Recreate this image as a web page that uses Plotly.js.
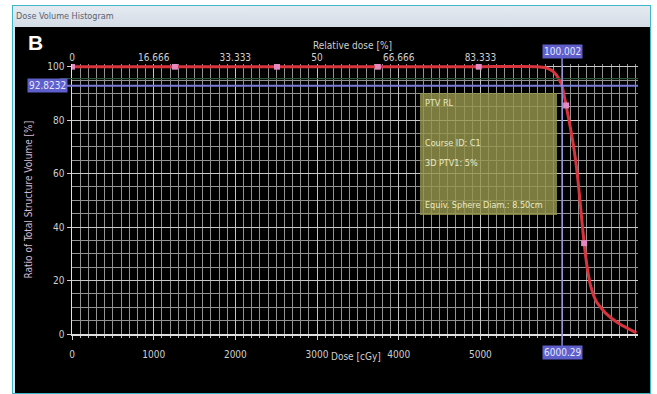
<!DOCTYPE html>
<html><head><meta charset="utf-8">
<script src="https://cdn.plot.ly/plotly-3.0.1.min.js"></script>
<style>
html,body{margin:0;padding:0;background:#fff;width:657px;height:394px;overflow:hidden}
#win{position:absolute;left:12px;top:5px;width:637px;height:387px;border:1px solid #3fb6c6;background:#dbe2ea}
#bar{position:absolute;left:0;top:0;width:637px;height:21px;background:linear-gradient(#e6ebf2,#d3dbe5);font:9px "Liberation Sans Narrow","DejaVu Sans Condensed",sans-serif;color:#5a6270;line-height:20px;padding-left:3px;box-sizing:border-box}
#blk{position:absolute;left:2px;top:21px;right:0;bottom:0;background:#000}
#chart{position:absolute;left:0;top:0;width:657px;height:394px}
</style></head>
<body>
<div id="win"><div id="bar">Dose Volume Histogram</div><div id="blk"></div></div>
<div id="chart"></div>
<script>
// ---- data ----
const doseCurve   = [0, 1000, 2000, 3000, 4000, 5000, 5700, 5800, 5880, 5940, 6000, 6050, 6100, 6150, 6190, 6230, 6270, 6310, 6350, 6420, 6540, 6700, 6910];
const volumeCurve = [100, 100, 100, 100, 100, 100, 100, 99.6, 98.5, 96.5, 92.8, 85.5, 77.5, 68.5, 59, 46.5, 34, 24.5, 18, 12.2, 7.6, 3.8, 0.4];
const markerDose  = [0, 1260, 2510, 3745, 4980, 6050, 6270];
const markerVol   = [100, 100, 100, 100, 100, 85.5, 34];
const xTickVals   = [0, 1000, 2000, 3000, 4000, 5000, 6000];
const xTickText   = ['0', '1000', '2000', '3000', '4000', '5000', ''];
const yTickVals   = [0, 20, 40, 60, 80, 100];
const yTickText   = ['0', '20', '40', '60', '80', '100'];
const relTickVals = [0, 16.666, 33.333, 50, 66.666, 83.333];
const relTickText = ['0', '16.666', '33.333', '50', '66.666', '83.333'];
const cursorDose  = 6000.29;
const cursorRel   = 100.002;
const cursorVol   = 92.8232;
const greenRefVol = 95.5;
const doseMax     = 6930;
const doseToRel   = 60.0;
const legendLines = ['PTV RL', 'Course ID: C1', '3D PTV1: 5%', 'Equiv. Sphere Diam.: 8.50cm'];

// ---- layout helpers (pixel -> paper) ----
const L = 72, R = 19, T = 64, B = 60, W = 657, H = 394;
const pw = W - L - R, ph = H - T - B;
const px = p => (p - L) / pw;
const py = p => (H - B - p) / ph;

const FONT = '"Liberation Sans Narrow","DejaVu Sans Condensed","Arial Narrow",sans-serif';
const TXT = '#cfcfcf';

const traces = [
  {x: doseCurve, y: volumeCurve, type: 'scatter', mode: 'lines',
   line: {color: '#d8343e', width: 3, shape: 'spline', smoothing: 0.5}, hoverinfo: 'skip', showlegend: false},
  {x: markerDose, y: markerVol, type: 'scatter', mode: 'markers',
   marker: {symbol: 'square', size: 6, color: '#e48ac2'}, hoverinfo: 'skip', showlegend: false},
  {x: doseCurve.map(d => d / doseToRel), y: volumeCurve, xaxis: 'x2', type: 'scatter', mode: 'lines',
   opacity: 0, hoverinfo: 'skip', showlegend: false}
];

const ann = [];
const box = (text, x, y, xref, yref, xanchor) => ann.push({
  text, x, y, xref, yref, xanchor: xanchor || 'center', yanchor: 'middle', showarrow: false,
  bgcolor: '#5f5fcc', borderpad: 1, font: {family: FONT, size: 10, color: '#e6e6ff'}
});
box(cursorRel.toFixed(3), cursorDose, py(52), 'x', 'paper');
box(cursorDose.toFixed(2), cursorDose, py(352), 'x', 'paper');
box(cursorVol.toFixed(4), px(68), cursorVol, 'paper', 'y', 'right');

ann.push({text: '<b>B</b>', x: px(26), y: py(42), xref: 'paper', yref: 'paper', xanchor: 'left', yanchor: 'middle',
  showarrow: false, font: {family: 'Liberation Sans, Arial, sans-serif', size: 21, color: '#ffffff'}});
ann.push({text: 'Relative dose [%]', x: px(352), y: py(38), xref: 'paper', yref: 'paper', showarrow: false,
  font: {family: FONT, size: 10, color: TXT}});
ann.push({text: 'Dose [cGy]', x: px(356), y: py(364), xref: 'paper', yref: 'paper', showarrow: false,
  font: {family: FONT, size: 10, color: TXT}});
ann.push({text: 'Ratio of Total Structure Volume [%]', x: px(20), y: py(200), xref: 'paper', yref: 'paper',
  showarrow: false, textangle: -90, font: {family: FONT, size: 10, color: '#d6bcd2'}});

const legY = [103, 143, 163, 205];
legendLines.forEach((t, i) => ann.push({text: t, x: px(423), y: py(legY[i]), xref: 'paper', yref: 'paper',
  xanchor: 'left', yanchor: 'middle', showarrow: false, font: {family: FONT, size: 9, color: '#ecebc4'}}));

const shapes = [
  {type: 'rect', xref: 'paper', yref: 'paper', x0: px(420), x1: px(557), y0: py(215), y1: py(93),
   fillcolor: 'rgba(150,150,78,0.82)', line: {width: 0}, layer: 'above'},
  {type: 'line', xref: 'paper', yref: 'y', x0: px(60), x1: 1, y0: greenRefVol, y1: greenRefVol,
   line: {color: '#2f5233', width: 1.2}, layer: 'above'},
  {type: 'line', xref: 'paper', yref: 'y', x0: px(60), x1: 1, y0: cursorVol, y1: cursorVol,
   line: {color: '#7a7ad8', width: 2}, layer: 'above'},
  {type: 'line', xref: 'x', yref: 'paper', x0: cursorDose, x1: cursorDose, y0: py(346), y1: py(58),
   line: {color: '#8c8ce2', width: 1.5}, layer: 'above'}
];

const layout = {
  width: W, height: H,
  margin: {l: L, r: R, t: T, b: B, pad: 0},
  paper_bgcolor: 'rgba(0,0,0,0)', plot_bgcolor: '#000',
  showlegend: false,
  xaxis: {range: [0, doseMax], tickmode: 'array', tickvals: xTickVals, ticktext: xTickText,
    showgrid: true, gridcolor: '#c4c4c4', gridwidth: 1, zeroline: false,
    showline: true, linecolor: '#e0e0e0', linewidth: 1.5,
    ticks: 'outside', ticklen: 4, tickcolor: '#d0d0d0', ticklabelstandoff: 6,
    tickfont: {family: FONT, size: 10, color: TXT},
    minor: {tick0: 0, dtick: 100, showgrid: true, gridcolor: '#939393', gridwidth: 1,
      ticks: 'outside', ticklen: 2, tickcolor: '#bbbbbb'}},
  xaxis2: {range: [0, doseMax / doseToRel], overlaying: 'x', side: 'top', anchor: 'y',
    tickmode: 'array', tickvals: relTickVals, ticktext: relTickText,
    showgrid: false, zeroline: false, showline: false, ticks: '',
    tickfont: {family: FONT, size: 10, color: TXT}},
  yaxis: {range: [0, 101], tickmode: 'array', tickvals: yTickVals, ticktext: yTickText,
    showgrid: true, gridcolor: '#c8c8c8', gridwidth: 1, zeroline: false,
    showline: true, linecolor: '#e0e0e0', linewidth: 1.5,
    ticks: 'outside', ticklen: 4, tickcolor: '#d0d0d0',
    tickfont: {family: FONT, size: 10, color: TXT},
    minor: {tick0: 0, dtick: 5, showgrid: true, gridcolor: '#939393', gridwidth: 1}},
  annotations: ann,
  shapes: shapes
};

Plotly.newPlot('chart', traces, layout, {staticPlot: true, displayModeBar: false});
</script>
</body></html>
